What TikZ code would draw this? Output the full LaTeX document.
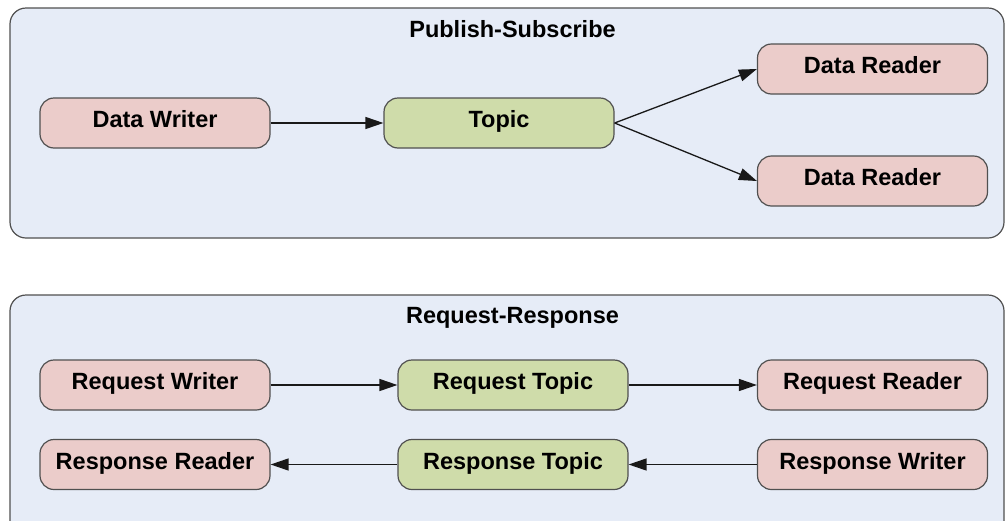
\documentclass[tikz,border=0pt]{standalone}
\usepackage{fontspec}
\setmainfont{Liberation Sans}
\usetikzlibrary{arrows.meta}
\definecolor{panelbg}{HTML}{E6ECF7}
\definecolor{pinkfill}{HTML}{EBCCCA}
\definecolor{greenfill}{HTML}{CFDCAA}
\definecolor{edgegray}{HTML}{505050}
\tikzset{
  panel/.style={draw=edgegray, line width=1.2pt, fill=panelbg, rounded corners=16pt},
  rolebox/.style={draw=edgegray, line width=1.2pt, fill=pinkfill, rounded corners=14pt,
    minimum width=230pt, minimum height=50pt, inner sep=0pt,
    text height=17pt, text depth=7.5pt,
    font=\fontsize{23.5}{27}\selectfont\bfseries},
  topicbox/.style={rolebox, fill=greenfill},
  paneltitle/.style={font=\fontsize{23.5}{27}\selectfont\bfseries, inner sep=0pt},
  flow/.style={draw=black!90, line width=1.3pt, -{Triangle[length=18pt,width=12pt]}}
}
\begin{document}
\begin{tikzpicture}[x=1pt,y=-1pt]
\useasboundingbox (0,0) rectangle (1005,520);
\clip (0,0) rectangle (1005,520);
\fill[white] (0,0) rectangle (1005,520);
% panels
\draw[panel] (10,8) rectangle (1004,238);
\draw[panel] (10,295) rectangle (1004,545);
\node[paneltitle] (t1) at (512.5,29.5) {Publish-Subscribe};
\node[paneltitle] (t2) at (512.5,317.5) {Request-Response};
% publish-subscribe
\node[rolebox] (dw) at (155,123) {Data Writer};
\node[topicbox] (topic) at (499,123) {Topic};
\node[rolebox] (dr1) at (872.5,69) {Data Reader};
\node[rolebox] (dr2) at (872.5,181) {Data Reader};
\draw[flow] (dw) -- (topic);
\draw[flow] (topic.east) -- (dr1.west);
\draw[flow] (topic.east) -- (dr2.west);
% request-response
\node[rolebox] (rqw) at (155,385) {Request Writer};
\node[rolebox] (rsr) at (155,464.5) {Response Reader};
\node[topicbox] (rqt) at (513,385) {Request Topic};
\node[topicbox] (rst) at (513,464.5) {Response Topic};
\node[rolebox] (rqr) at (872.5,385) {Request Reader};
\node[rolebox] (rsw) at (872.5,464.5) {Response Writer};
\draw[flow] (rqw) -- (rqt);
\draw[flow] (rqt) -- (rqr);
\draw[flow] (rsw) -- (rst);
\draw[flow] (rst) -- (rsr);
\end{tikzpicture}
\end{document}
